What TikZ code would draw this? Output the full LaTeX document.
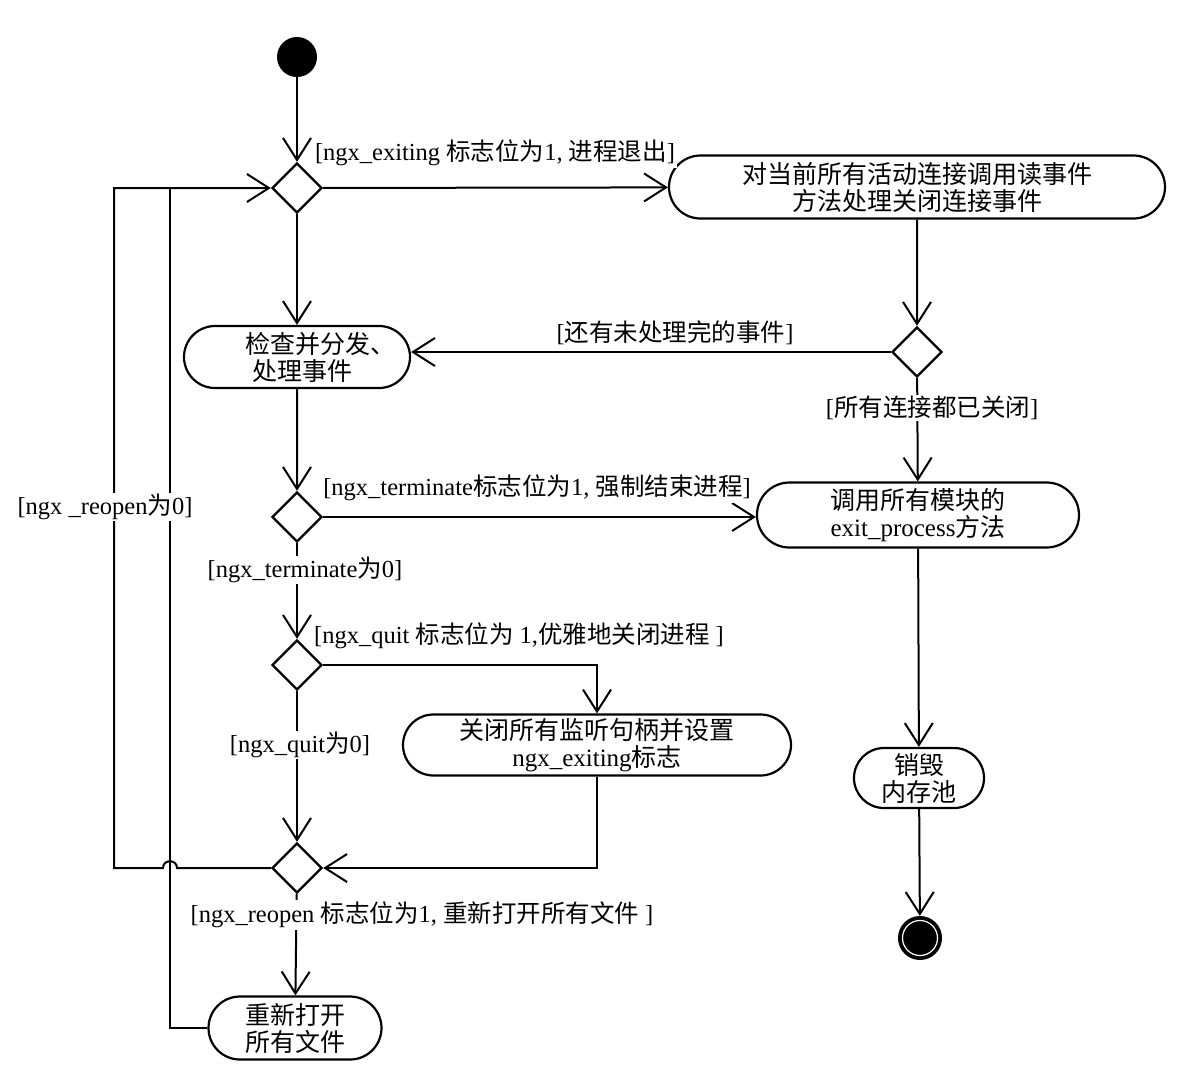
\documentclass[tikz,border=0pt]{standalone}
\usepackage{fontspec}
\setmainfont{Liberation Serif}
\newfontfamily\cjk{Noto Sans CJK SC}
\newcommand\zh[1]{{\cjk #1}}
\usetikzlibrary{shapes.geometric,shapes.misc,arrows.meta}
\begin{document}
\begin{tikzpicture}[x=1pt,y=-1pt,
  every node/.style={inner sep=0pt},
  act/.style={rounded rectangle, draw, line width=2.2pt, align=center, font=\fontsize{25}{27}\selectfont, inner sep=0pt},
  dec/.style={diamond, draw, line width=2.4pt, minimum width=50pt, minimum height=50pt, inner sep=0pt},
  lbl/.style={fill=white, inner sep=1.5pt, font=\fontsize{24.5}{26}\selectfont},
  flow/.style={line width=2pt, -{Straight Barb[length=22pt,width=28pt,line width=2pt]}},
  plain/.style={line width=2pt}]
\useasboundingbox[fill=white] (0,0) rectangle (1184,1088);

% initial / final
\node (start) [circle, fill=black, minimum size=40pt] at (297,57) {};
\node (end) [circle, fill=black, minimum size=44pt] at (920,938) {};
\node (endring) [circle, draw=white, line width=1.2pt, minimum size=35pt] at (end) {};

% decisions
\node (d1) [dec] at (297,188) {};
\node (d2) [dec] at (917,352) {};
\node (d3) [dec] at (297,517) {};
\node (d4) [dec] at (297,665) {};
\node (d5) [dec] at (297,868) {};

% activities
\node (box1) [act, minimum width=496pt, minimum height=63pt] at (917,187) {\zh{对当前所有活动连接调用读事件}\\\zh{方法处理关闭连接事件}};
\node (box2) [act, minimum width=226pt, minimum height=62pt, align=left] at (297,357) {\hspace*{46pt}\zh{检查并分发、}\\\hspace*{53pt}\zh{处理事件}};
\node (box3) [act, minimum width=322pt, minimum height=65pt] at (918,515) {\zh{调用所有模块的}\\exit\_process\zh{方法}};
\node (box4) [act, minimum width=388pt, minimum height=61pt] at (597,745) {\zh{关闭所有监听句柄并设置}\\ngx\_exiting\zh{标志}};
\node (box5) [act, minimum width=173pt, minimum height=63pt] at (295,1028) {\zh{重新打开}\\\zh{所有文件}};
\node (box6) [act, minimum width=130pt, minimum height=60pt] at (919,778) {\zh{销毁}\\\zh{内存池}};

% helper coordinates for the loops
\coordinate (lb) at (114,868);
\coordinate (lt) at (114,188);
\coordinate (jr) at (177,868);
\coordinate (jl) at (163,868);
\coordinate (ib) at (170,1028);
\coordinate (it) at (170,188);

% connectors
\draw[flow] (start) -- (d1);
\draw[flow] (d1) -- (box1);
\draw[flow] (d1) -- (box2);
\draw[flow] (box1) -- (d2);
\draw[flow] (d2.west) -- (box2.east |- d2.west);
\draw[flow] (d2) -- (box3);
\draw[flow] (box2) -- (d3);
\draw[flow] (d3.east) -- (box3.west |- d3.east);
\draw[flow] (d3) -- (d4);
\draw[flow] (d4.east) -| (box4.north);
\draw[flow] (d4) -- (d5);
\draw[flow] (box4.south) |- (d5.east);
\draw[flow] (d5) -- (box5);
\draw[flow] (box3) -- (box6);
\draw[flow] (box6) -- (end);
\draw[flow] (d5.west) -- (jr) .. controls (177,859) and (163,859) .. (jl) -- (lb) -- (lt) -- (d1.west);
\draw[plain] (box5.west) -- (ib) -- (it);

% guard labels
\node[lbl] (l1) at (495,153) {[ngx\_exiting \zh{标志位为}1, \zh{进程退出}]};
\node[lbl] (l2) at (675,333) {[\zh{还有未处理完的事件}]};
\node[lbl] (l3) at (932,408) {[\zh{所有连接都已关闭}]};
\node[lbl] (l4) at (537,488) {[ngx\_terminate\zh{标志位为}1, \zh{强制结束进程}]};
\node[lbl] (l5) at (305,570) {[ngx\_terminate\zh{为}0]};
\node[lbl] (l6) at (519,636) {[ngx\_quit \zh{标志位为} 1,\zh{优雅地关闭进程} ]};
\node[lbl] (l7) at (300,745) {[ngx\_quit\zh{为}0]};
\node[lbl] (l8) at (105,507) {[ngx \_reopen\zh{为}0]};
\node[lbl] (l9) at (422,915) {[ngx\_reopen \zh{标志位为}1, \zh{重新打开所有文件} ]};
\end{tikzpicture}
\end{document}
